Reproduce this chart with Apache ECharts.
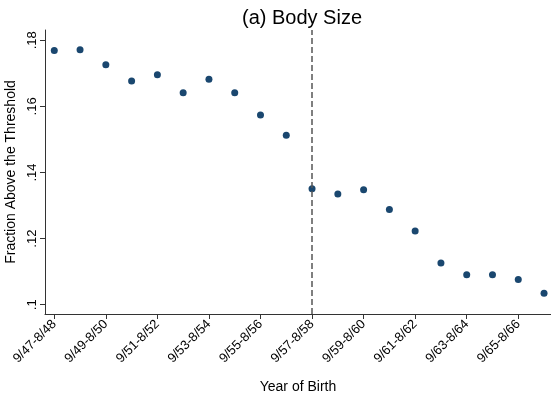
<!DOCTYPE html>
<html>
<head>
<meta charset="utf-8">
<script src="https://cdn.jsdelivr.net/npm/echarts@6/dist/echarts.min.js"></script>
<style>html,body{margin:0;padding:0;background:#fff;}#c{width:551px;height:400px;}</style>
</head>
<body>
<div id="c"></div>
<script>
var categories = ["9/47-8/48","9/48-8/49","9/49-8/50","9/50-8/51","9/51-8/52","9/52-8/53","9/53-8/54","9/54-8/55","9/55-8/56","9/56-8/57","9/57-8/58","9/58-8/59","9/59-8/60","9/60-8/61","9/61-8/62","9/62-8/63","9/63-8/64","9/64-8/65","9/65-8/66","9/66-8/67"];
var fractionAbove = [0.1769,0.1771,0.1726,0.1677,0.1696,0.1641,0.1682,0.1641,0.1574,0.1513,0.1351,0.1335,0.1348,0.1288,0.1223,0.1126,0.1091,0.1091,0.1076,0.1035];
var xTickLabels = ["9/47-8/48","9/49-8/50","9/51-8/52","9/53-8/54","9/55-8/56","9/57-8/58","9/59-8/60","9/61-8/62","9/63-8/64","9/65-8/66"];
var yTickValues = [0.10,0.12,0.14,0.16,0.18];
var yTickLabels = [".1",".12",".14",".16",".18"];
var cutoffCategory = "9/57-8/58";

var xTickPos = xTickLabels.map(function(l){return categories.indexOf(l);});
var pts = fractionAbove.map(function(v,i){return [i,v];});
var font = '"Liberation Sans", Arial, Helvetica, sans-serif';

var chart = echarts.init(document.getElementById('c'));
chart.setOption({
  animation:false,
  backgroundColor:'#ffffff',
  title:{text:'(a) Body Size',left:297,top:3,textAlign:'center',
    textStyle:{fontFamily:font,fontSize:20,fontWeight:'normal',color:'#000'}},
  grid:{left:45,right:0,top:30,bottom:86,outerBoundsMode:'none',containLabel:false},
  xAxis:{type:'value',min:-0.36,max:19.27,
    name:'Year of Birth',nameLocation:'middle',nameGap:66,
    nameTextStyle:{fontFamily:font,fontSize:14,color:'#000'},
    axisLine:{show:true,onZero:false,lineStyle:{color:'#333',width:1}},
    axisTick:{show:true,length:5,lineStyle:{color:'#333'},customValues:xTickPos},
    splitLine:{show:false},
    axisLabel:{customValues:xTickPos,rotate:45,margin:8,fontFamily:font,fontSize:13,color:'#000',
      formatter:function(v){return categories[Math.round(v)]||'';}}},
  yAxis:{type:'value',min:0.0972,max:0.1831,
    name:'Fraction Above the Threshold',nameLocation:'middle',nameGap:25,
    nameTextStyle:{fontFamily:font,fontSize:14,color:'#000'},
    axisLine:{show:true,onZero:false,lineStyle:{color:'#333',width:1}},
    axisTick:{show:true,length:5,lineStyle:{color:'#333'},customValues:yTickValues},
    splitLine:{show:false},
    axisLabel:{customValues:yTickValues,rotate:90,margin:6,fontFamily:font,fontSize:13,color:'#000',
      formatter:function(v){for(var i=0;i<yTickValues.length;i++){if(Math.abs(v-yTickValues[i])<1e-6)return yTickLabels[i];}return '';}}},
  series:[{type:'scatter',data:pts,symbol:'circle',symbolSize:7,
    itemStyle:{color:'#1a476f',opacity:1},
    markLine:{silent:true,symbol:['none','none'],label:{show:false},
      lineStyle:{type:[6,3],color:'#555',width:1.5},
      data:[{xAxis:categories.indexOf(cutoffCategory)}]}}]
});
</script>
</body>
</html>
